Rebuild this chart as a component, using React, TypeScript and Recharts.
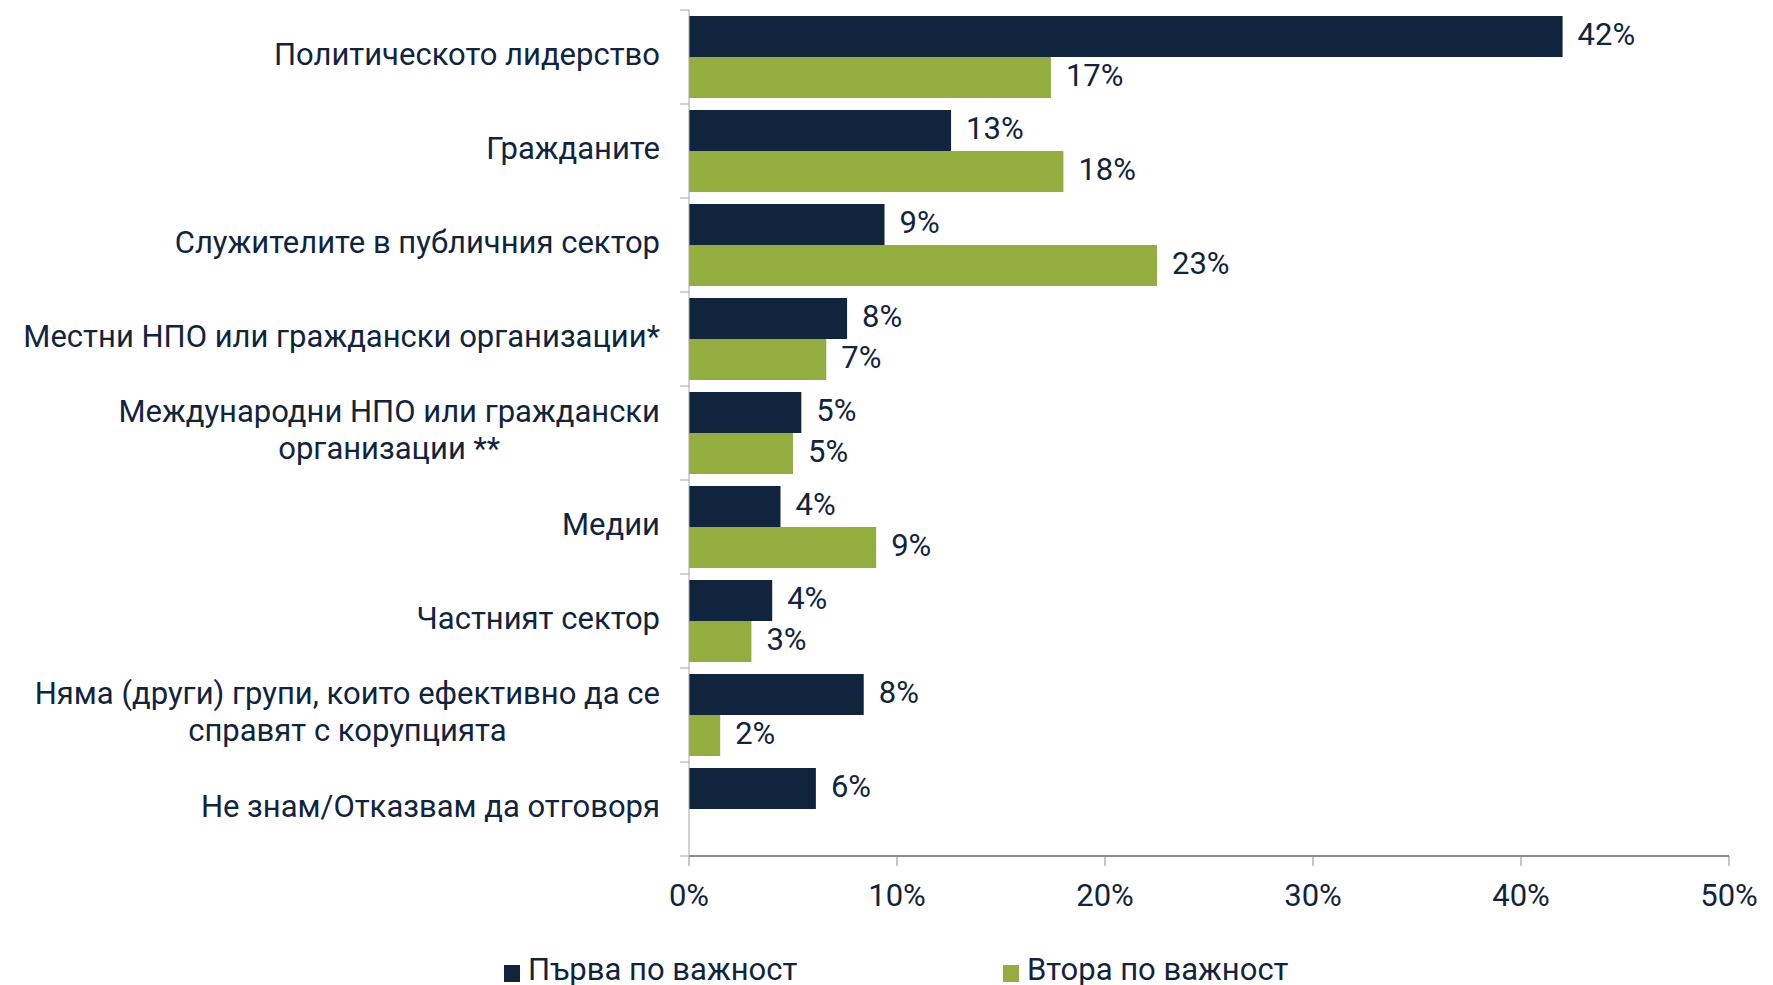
import { BarChart, Bar, XAxis, YAxis, Legend, LabelList } from "recharts";

const categories = [
  "Политическото лидерство",
  "Гражданите",
  "Служителите в публичния сектор",
  "Местни НПО или граждански организации*",
  "Международни НПО или граждански\nорганизации **",
  "Медии",
  "Частният сектор",
  "Няма (други) групи, които ефективно да се\nсправят с корупцията",
  "Не знам/Отказвам да отговоря",
];
const firstValues = [42.0, 12.6, 9.4, 7.6, 5.4, 4.4, 4.0, 8.4, 6.1];
const secondValues = [17.4, 18.0, 22.5, 6.6, 5.0, 9.0, 3.0, 1.5, null];
const xTicks = [0, 10, 20, 30, 40, 50];
const seriesNames = ["Първа по важност", "Втора по важност"];

const NAVY = "#10243e";
const GREEN = "#93ae3f";
const FONT = "Roboto, 'Liberation Sans', sans-serif";
const FS = 31;

const W = 1773;
const H = 985;
const TOP = 10;
const AXIS_X = 689;
const AXIS_Y = 856;
const BAND = (AXIS_Y - TOP) / categories.length;

const data = categories.map((name, i) => ({ name, first: firstValues[i], second: secondValues[i] }));

function CategoryTick(props: any) {
  const { y, payload, index } = props;
  const lines = String(payload.value).split("\n");
  return (
    <g>
      <line x1={AXIS_X - 9} x2={AXIS_X} y1={y - BAND / 2} y2={y - BAND / 2} stroke="#a6a6a6" />
      {index === categories.length - 1 && (
        <line x1={AXIS_X - 9} x2={AXIS_X} y1={y + BAND / 2} y2={y + BAND / 2} stroke="#a6a6a6" />
      )}
      <foreignObject x={0} y={y - 63} width={660} height={120}>
        <div style={{ height: "100%", display: "flex", alignItems: "center", justifyContent: "flex-end" }}>
          <div style={{ textAlign: "center", fontFamily: FONT, fontSize: FS, lineHeight: "37px", color: NAVY, whiteSpace: "nowrap" }}>
            {lines.map((l, i) => (
              <div key={i}>{l}</div>
            ))}
          </div>
        </div>
      </foreignObject>
    </g>
  );
}

function LegendContent() {
  const colors = [NAVY, GREEN];
  const lefts = [504, 1003];
  return (
    <div style={{ position: "relative", width: W, height: 40, fontFamily: FONT, fontSize: FS, color: NAVY }}>
      {seriesNames.map((n, i) => (
        <div key={n} style={{ position: "absolute", left: lefts[i], top: 6, display: "flex", alignItems: "center", whiteSpace: "nowrap" }}>
          <span style={{ width: 16, height: 17, background: colors[i], display: "inline-block", marginRight: 8, marginTop: 8 }} />
          {n}
        </div>
      ))}
    </div>
  );
}

const fmt = (v: any) => (v == null ? "" : `${Math.round(Number(v))}%`);

export default function App() {
  return (
    <div style={{ position: "absolute", left: 0, top: 0, width: W, height: H, background: "#fff", fontFamily: FONT }}>
      <BarChart
        width={W}
        height={H}
        data={data}
        layout="vertical"
        margin={{ top: TOP, right: 44, left: 0, bottom: 0 }}
        barCategoryGap={6}
        barGap={0}
      >
        <XAxis
          type="number"
          domain={[0, 50]}
          ticks={xTicks}
          tickFormatter={(v) => `${v}%`}
          height={89}
          tick={{ fontSize: FS, fill: NAVY, fontFamily: FONT }}
          tickSize={10}
          tickMargin={18}
          axisLine={{ stroke: "#8c8c8c", strokeWidth: 2 }}
          tickLine={{ stroke: "#8c8c8c" }}
        />
        <YAxis
          type="category"
          dataKey="name"
          width={AXIS_X}
          tick={<CategoryTick />}
          tickLine={false}
          axisLine={{ stroke: "#a6a6a6" }}
          interval={0}
        />
        <Legend verticalAlign="bottom" wrapperStyle={{ left: 0, bottom: 0, width: W, height: 40 }} content={<LegendContent />} />
        <Bar dataKey="first" name={seriesNames[0]} fill={NAVY} isAnimationActive={false}>
          <LabelList dataKey="first" position="right" offset={15} dy={-3} formatter={fmt} style={{ fontSize: FS, fill: NAVY, fontFamily: FONT }} />
        </Bar>
        <Bar dataKey="second" name={seriesNames[1]} fill={GREEN} isAnimationActive={false}>
          <LabelList dataKey="second" position="right" offset={15} dy={-3} formatter={fmt} style={{ fontSize: FS, fill: NAVY, fontFamily: FONT }} />
        </Bar>
      </BarChart>
    </div>
  );
}
